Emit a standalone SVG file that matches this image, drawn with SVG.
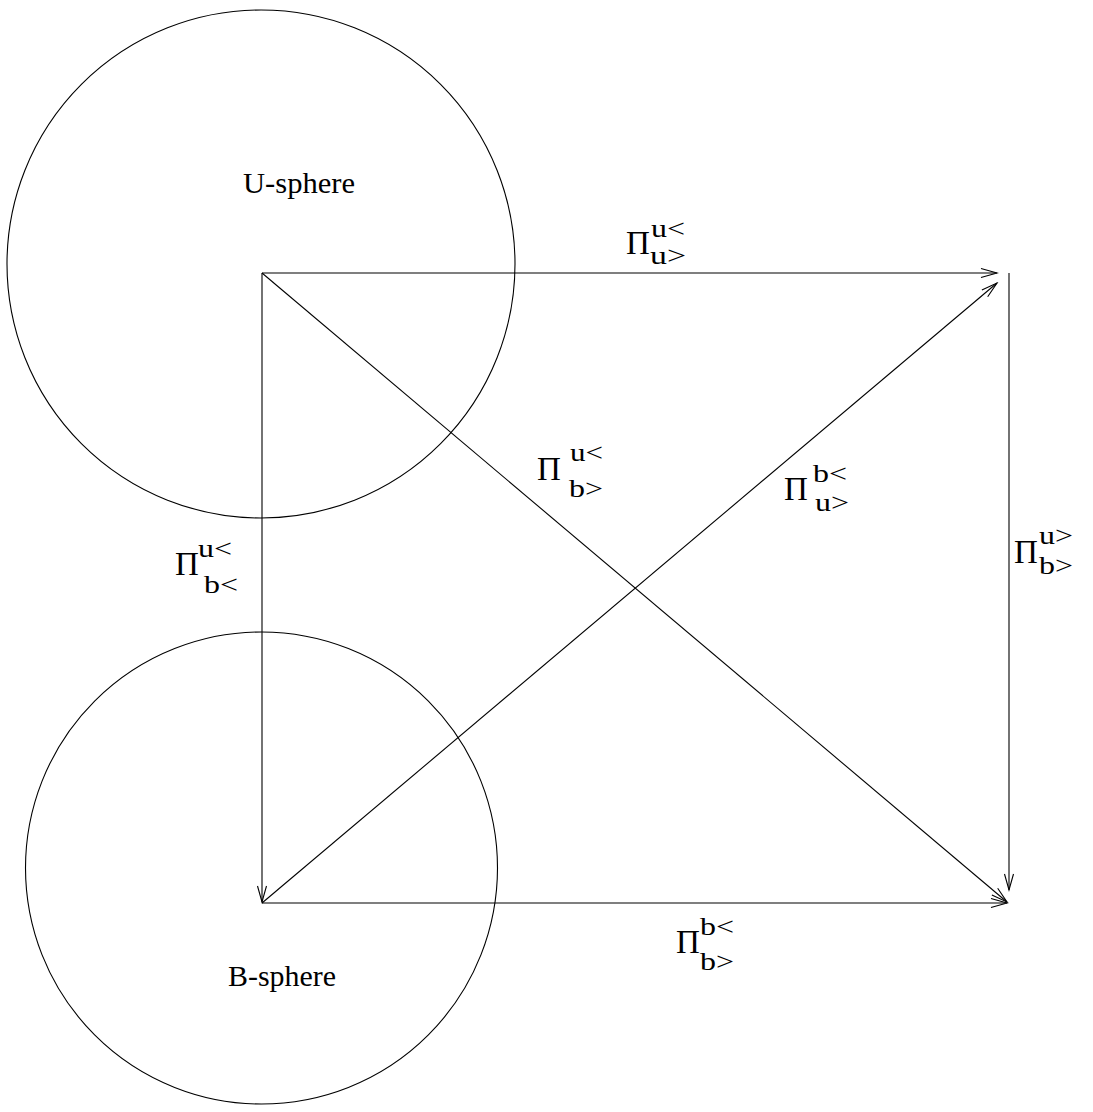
<svg xmlns="http://www.w3.org/2000/svg" width="1093" height="1112" viewBox="0 0 1093 1112">
<style>
.ln{stroke:#000;stroke-width:1.1;fill:none}
.pi{font-family:"Liberation Serif",serif;font-size:33px;fill:#000}
.ix{font-family:"Liberation Serif",serif;font-size:26px;fill:#000}
.lb{font-family:"Liberation Serif",serif;font-size:29px;fill:#000}
</style>
<defs>
<marker id="ah" markerUnits="userSpaceOnUse" markerWidth="20" markerHeight="12" viewBox="-18 -6 20 12" refX="0" refY="0" orient="auto">
<path d="M-16,-4.5 L0,0 L-16,4.5" fill="none" stroke="#000" stroke-width="1.1"/>
</marker>
</defs>
<rect width="1093" height="1112" fill="#fff"/>
<g id="u-sphere">
<circle class="ln" cx="261" cy="264" r="254"/>
<text class="lb" x="243" y="193" textLength="112" lengthAdjust="spacingAndGlyphs">U-sphere</text>
</g>
<g id="b-sphere">
<circle class="ln" cx="261.5" cy="868" r="236"/>
<text class="lb" x="228" y="986" textLength="108" lengthAdjust="spacingAndGlyphs">B-sphere</text>
</g>
<g id="connectors">
<line class="ln" x1="262" y1="273" x2="997" y2="273" marker-end="url(#ah)"/>
<line class="ln" x1="262" y1="273" x2="262" y2="902" marker-end="url(#ah)"/>
<line class="ln" x1="262" y1="273" x2="1007" y2="902" marker-end="url(#ah)"/>
<line class="ln" x1="262" y1="903" x2="997" y2="283" marker-end="url(#ah)"/>
<line class="ln" x1="262" y1="903" x2="1007" y2="903" marker-end="url(#ah)"/>
<line class="ln" x1="1009" y1="273" x2="1009" y2="890" marker-end="url(#ah)"/>
</g>
<g id="label-uu">
<text class="pi" x="626" y="254">Π</text>
<text class="ix" x="651" y="237" textLength="34" lengthAdjust="spacingAndGlyphs">u&lt;</text>
<text class="ix" x="650" y="264" textLength="36" lengthAdjust="spacingAndGlyphs">u&gt;</text>
</g>
<g id="label-ub">
<text class="pi" x="537" y="480">Π</text>
<text class="ix" x="570" y="461" textLength="33" lengthAdjust="spacingAndGlyphs">u&lt;</text>
<text class="ix" x="569" y="497" textLength="34" lengthAdjust="spacingAndGlyphs">b&gt;</text>
</g>
<g id="label-bu">
<text class="pi" x="784" y="500">Π</text>
<text class="ix" x="813" y="482" textLength="34" lengthAdjust="spacingAndGlyphs">b&lt;</text>
<text class="ix" x="815" y="511" textLength="34" lengthAdjust="spacingAndGlyphs">u&gt;</text>
</g>
<g id="label-ubl">
<text class="pi" x="175" y="575">Π</text>
<text class="ix" x="198" y="557" textLength="34" lengthAdjust="spacingAndGlyphs">u&lt;</text>
<text class="ix" x="204" y="593" textLength="34" lengthAdjust="spacingAndGlyphs">b&lt;</text>
</g>
<g id="label-ubr">
<text class="pi" x="1014" y="563">Π</text>
<text class="ix" x="1039" y="544" textLength="34" lengthAdjust="spacingAndGlyphs">u&gt;</text>
<text class="ix" x="1039" y="574" textLength="34" lengthAdjust="spacingAndGlyphs">b&gt;</text>
</g>
<g id="label-bb">
<text class="pi" x="676" y="953">Π</text>
<text class="ix" x="700" y="935" textLength="34" lengthAdjust="spacingAndGlyphs">b&lt;</text>
<text class="ix" x="700" y="970" textLength="34" lengthAdjust="spacingAndGlyphs">b&gt;</text>
</g>
</svg>
